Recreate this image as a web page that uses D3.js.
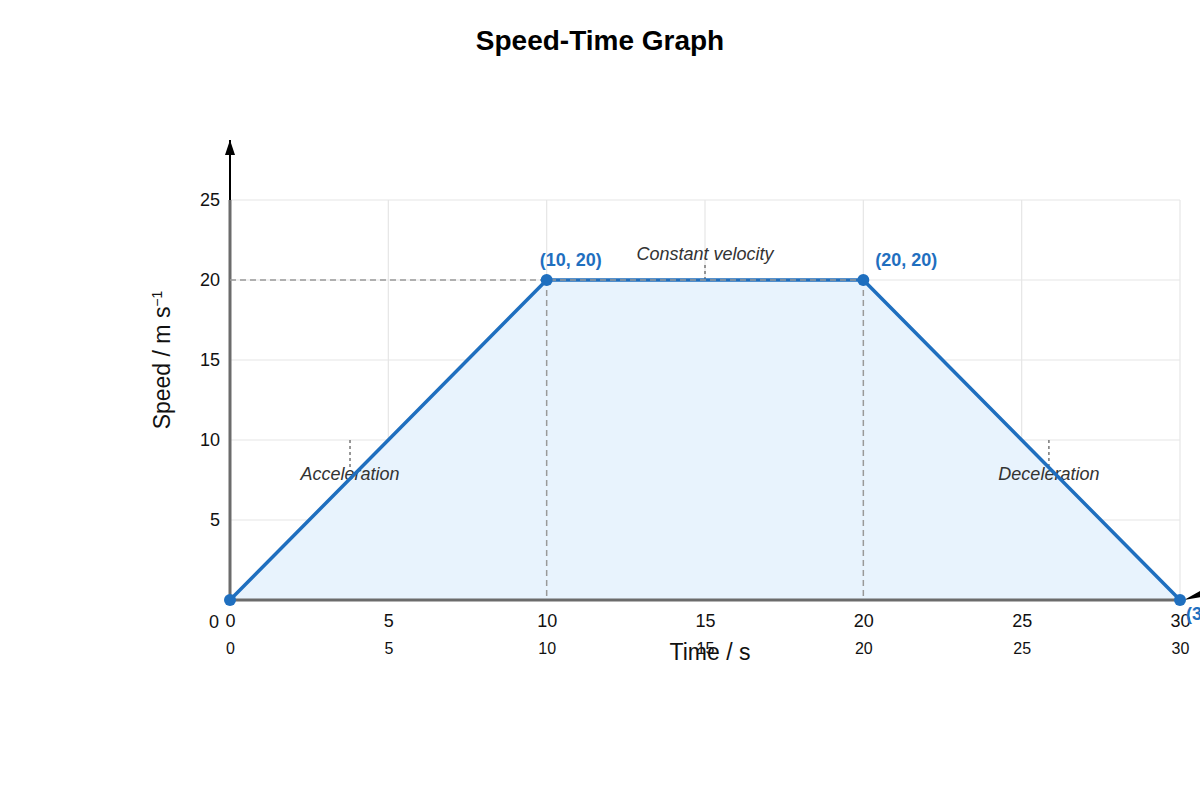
<!DOCTYPE html>
<html>
<head>
<meta charset="utf-8">
<script src="https://cdn.jsdelivr.net/npm/d3@7"></script>
<style>
  body { margin: 0; background: #fff; }
  text { font-family: "Liberation Sans", Arial, sans-serif; }
</style>
</head>
<body>
<div id="root"></div>
<script>
// data
const times = [0, 10, 20, 30];
const speeds = [0, 20, 20, 0];
const pointLabels = ["", "(10, 20)", "(20, 20)", "(30, 0)"];
const xTicks = [0, 5, 10, 15, 20, 25, 30];
const yTicks = [5, 10, 15, 20, 25];
const phases = [
  { text: "Acceleration", t: 3.79, v: 10, tipV: 8.2 },
  { text: "Constant velocity", t: 15, v: 20, tipV: 21 },
  { text: "Deceleration", t: 25.86, v: 10, tipV: 8.2 }
];

const width = 1200, height = 800;
const margin = { top: 200, left: 230, right: 20, bottom: 200 };
const blue = "#1f6fbf";

const svg = d3.select("#root").append("svg")
  .attr("width", width).attr("height", height);

const x = d3.scaleLinear().domain([0, 30]).range([margin.left, width - margin.right]);
const y = d3.scaleLinear().domain([0, 25]).range([height - margin.bottom, margin.top]);

svg.append("defs").append("marker")
  .attr("id", "arrow")
  .attr("viewBox", "0 0 10 10")
  .attr("refX", 10).attr("refY", 5)
  .attr("markerUnits", "userSpaceOnUse")
  .attr("markerWidth", 15).attr("markerHeight", 10)
  .attr("preserveAspectRatio", "none")
  .attr("orient", "auto")
  .append("path").attr("d", "M0,0 L10,5 L0,10 z").attr("fill", "#000");

svg.append("text")
  .text("Speed-Time Graph")
  .attr("x", width / 2).attr("y", 50)
  .attr("text-anchor", "middle")
  .style("font-size", "28px").style("font-weight", "bold");

// grid
svg.append("g").selectAll("line").data(xTicks.slice(1)).join("line")
  .attr("x1", d => x(d)).attr("x2", d => x(d))
  .attr("y1", y(0)).attr("y2", y(25))
  .attr("stroke", "#e6e6e6").attr("stroke-width", 1.2);
svg.append("g").selectAll("line").data(yTicks).join("line")
  .attr("x1", x(0)).attr("x2", x(30))
  .attr("y1", d => y(d)).attr("y2", d => y(d))
  .attr("stroke", "#e6e6e6").attr("stroke-width", 1.2);

// area under graph
const area = d3.area().x((d, i) => x(times[i])).y0(y(0)).y1((d, i) => y(speeds[i]));
svg.append("path").datum(times).attr("d", area).attr("fill", "#e8f3fd");

// vertical guide lines
const dash = "6,4";
svg.append("g").selectAll("line").data([10, 20]).join("line")
  .attr("x1", d => x(d)).attr("x2", d => x(d)).attr("y1", y(20)).attr("y2", y(0))
  .attr("stroke", "#999").attr("stroke-width", 1.5).attr("stroke-dasharray", dash);

// axes
svg.append("line")
  .attr("x1", x(0)).attr("x2", x(30)).attr("y1", y(0)).attr("y2", y(0))
  .attr("stroke", "#6b6b6b").attr("stroke-width", 3);
svg.append("line")
  .attr("x1", x(0)).attr("x2", x(0)).attr("y1", y(0)).attr("y2", y(25))
  .attr("stroke", "#6b6b6b").attr("stroke-width", 3);
svg.append("line")
  .attr("x1", x(0)).attr("x2", x(0)).attr("y1", y(25)).attr("y2", y(25) - 60)
  .attr("stroke", "#000").attr("stroke-width", 2).attr("marker-end", "url(#arrow)");
svg.append("path")
  .attr("d", `M${x(30) + 4},${y(0)} L${x(30) + 22},${y(0) - 10} L${x(30) + 22},${y(0) - 3} Z`)
  .attr("fill", "#000");

// tick labels
const xAxis = d3.axisBottom(x).tickValues(xTicks).tickSize(0).tickPadding(14);
svg.append("g").attr("transform", `translate(0,${y(0)})`).call(xAxis)
  .call(g => g.select(".domain").remove())
  .selectAll("text").style("font-size", "18px").attr("fill", "#111");
const xAxis2 = d3.axisBottom(x).tickValues(xTicks).tickSize(0).tickPadding(43);
svg.append("g").attr("transform", `translate(0,${y(0)})`).call(xAxis2)
  .call(g => g.select(".domain").remove())
  .selectAll("text").style("font-size", "16px").attr("fill", "#111");
const yAxis = d3.axisLeft(y).tickValues([0].concat(yTicks)).tickSize(0).tickPadding(10);
svg.append("g").attr("transform", `translate(${x(0)},0)`).call(yAxis)
  .call(g => g.select(".domain").remove())
  .selectAll("text").style("font-size", "18px").attr("fill", "#111")
  .attr("dy", (d) => d === 0 ? "1.55em" : "0.32em")
  .attr("dx", (d) => d === 0 ? "-1px" : "0");

// axis titles
svg.append("text").text("Time / s")
  .attr("x", 710).attr("y", y(0) + 60)
  .attr("text-anchor", "middle").style("font-size", "23px").attr("fill", "#111");
const yl = svg.append("text")
  .attr("transform", `translate(170, 360) rotate(-90)`)
  .attr("text-anchor", "middle").style("font-size", "23px").attr("fill", "#111");
yl.append("tspan").text("Speed / m s");
yl.append("tspan").text("−1").attr("dy", "-0.6em").style("font-size", "14px");

// phase annotations
svg.append("g").selectAll("line").data(phases).join("line")
  .attr("x1", d => x(d.t)).attr("x2", d => x(d.t))
  .attr("y1", d => y(d.v)).attr("y2", d => y(d.tipV))
  .attr("stroke", "#777").attr("stroke-width", 1.5).attr("stroke-dasharray", "3,3");
svg.append("g").selectAll("text").data(phases).join("text")
  .text(d => d.text)
  .attr("x", d => x(d.t))
  .attr("y", d => d.v === 20 ? y(20) - 20 : y(d.v) + 40)
  .attr("text-anchor", "middle")
  .style("font-size", "18px").style("font-style", "italic").attr("fill", "#333");

// speed line and points
const line = d3.line().x((d, i) => x(times[i])).y((d, i) => y(speeds[i]));
svg.append("path").datum(times).attr("d", line)
  .attr("fill", "none").attr("stroke", blue).attr("stroke-width", 3.5)
  .attr("stroke-linejoin", "round");

// horizontal guide line drawn over the speed line
svg.append("line")
  .attr("x1", x(0)).attr("x2", x(20)).attr("y1", y(20)).attr("y2", y(20))
  .attr("stroke", "#999").attr("stroke-width", 1.5).attr("stroke-dasharray", dash);

svg.append("g").selectAll("circle").data(times).join("circle")
  .attr("cx", (d, i) => x(times[i])).attr("cy", (d, i) => y(speeds[i]))
  .attr("r", 6).attr("fill", blue);

const labelOffsets = [[0, 0], [-7, -14], [12, -14], [6, 20]];
svg.append("g").selectAll("text").data(pointLabels).join("text")
  .text(d => d)
  .attr("x", (d, i) => x(times[i]) + labelOffsets[i][0])
  .attr("y", (d, i) => y(speeds[i]) + labelOffsets[i][1])
  .style("font-size", "18px").style("font-weight", "bold").attr("fill", blue);
</script>
</body>
</html>
